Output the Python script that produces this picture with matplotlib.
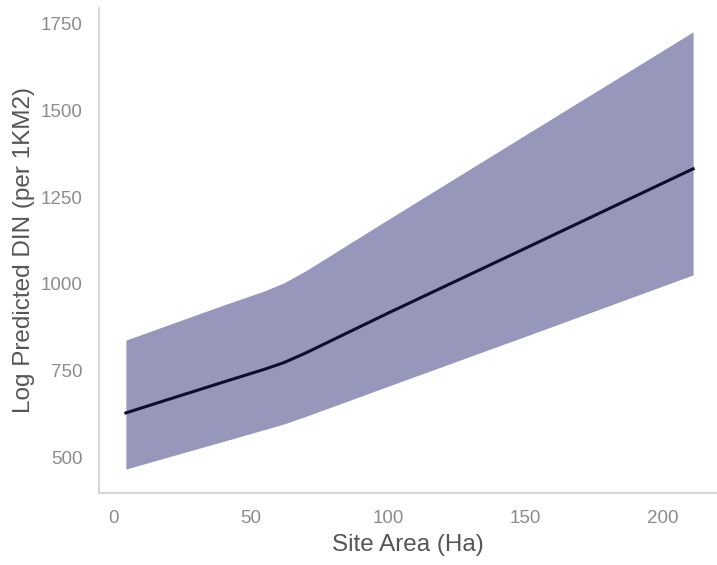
import matplotlib
matplotlib.use("Agg")
import matplotlib.pyplot as plt

# site area (Ha) and predicted DIN with its confidence band
site_area = [4.5, 20, 40, 55, 62, 70, 100, 150, 211]
fit = [628, 667, 717, 754, 773, 801, 916, 1103, 1332]
upper = [838, 882, 939, 980, 1003, 1038, 1186, 1430, 1727]
lower = [466, 501, 546, 580, 596, 618, 705, 849, 1026]

x_ticks = [0, 50, 100, 150, 200]
y_ticks = [500, 750, 1000, 1250, 1500, 1750]

plt.rcParams['font.family'] = ['Liberation Sans', 'DejaVu Sans']

fig = plt.figure(figsize=(7.17, 5.65), dpi=100)
ax = fig.add_axes([0.138, 0.1274, 0.862, 0.8586])

ax.fill_between(site_area, lower, upper, color="#9796bb", linewidth=0)
ax.plot(site_area, fit, color="#0d0c33", linewidth=2.2)

ax.set_xlim(-5.3, 219.7)
ax.set_ylim(397, 1796)
ax.set_xticks(x_ticks)
ax.set_yticks(y_ticks)

for side in ["top", "right"]:
    ax.spines[side].set_visible(False)
for side in ["left", "bottom"]:
    ax.spines[side].set_color("#d0d0d0")
    ax.spines[side].set_linewidth(1.2)

ax.tick_params(length=0, labelsize=13.5, labelcolor="#8c8c8c", pad=12)
ax.set_xlabel("Site Area (Ha)", fontsize=17.5, color="#555555", labelpad=5)
ax.set_ylabel("Log Predicted DIN (per 1KM2)", fontsize=17.5, color="#555555", labelpad=4)

fig.savefig("out.png", dpi=100)
